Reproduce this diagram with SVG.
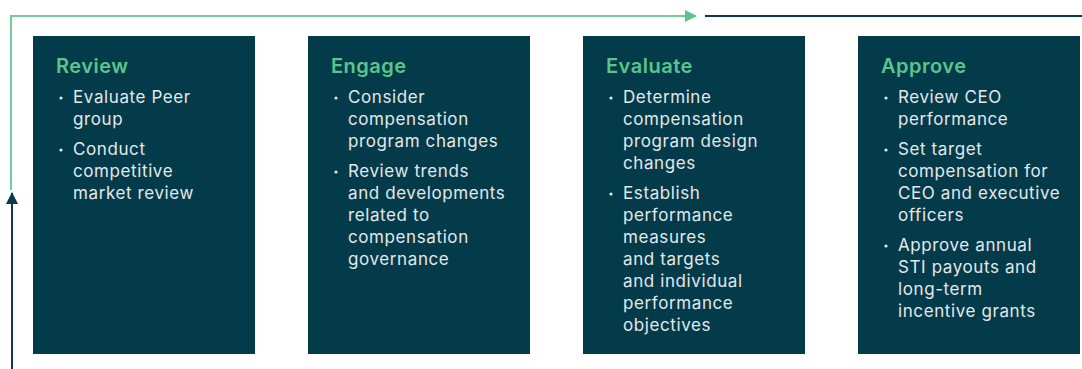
<svg xmlns="http://www.w3.org/2000/svg" width="1082" height="369" viewBox="0 0 1082 369">
<style>
.box{fill:#033b4b}
.t{font-family:Inter,"Liberation Sans",sans-serif;font-weight:600;font-size:20px;letter-spacing:0.5px;fill:#5cc48a}
.b{font-family:Inter,"Liberation Sans",sans-serif;font-size:17px;letter-spacing:0.6px;fill:#e4e8e9}
.dot{fill:#e4e8e9}
.g{stroke:#6ccf98;stroke-width:2;fill:none}
.d{stroke:#0b3a4c;stroke-width:2;fill:none}
</style>
<defs>
<marker id="ag" markerWidth="12" markerHeight="12" refX="11" refY="6" orient="auto" markerUnits="userSpaceOnUse"><path d="M0,0 L12,6 L0,12 Z" fill="#5cc48a"/></marker>
<marker id="ad" markerWidth="12" markerHeight="14" refX="11" refY="6" orient="auto" markerUnits="userSpaceOnUse"><path d="M0,0 L12,6 L0,12 Z" fill="#0b3a4c"/></marker>
</defs>
<g id="connectors">
<path class="g" d="M11,190 L11,16 L696,16" marker-end="url(#ag)"/>
<path class="d" d="M1082,16 L705,16"/>
<path class="d" d="M12,369 L12,193" marker-end="url(#ad)"/>
</g>
<g id="review">
<rect class="box" x="33" y="36" width="222" height="318"/>
<text class="t" x="56" y="73">Review</text>
<g class="dot"><circle cx="61" cy="98" r="1.6"/><circle cx="61" cy="150" r="1.6"/></g>
<g class="b">
<text x="73" y="103">Evaluate Peer</text>
<text x="73" y="125">group</text>
<text x="73" y="155">Conduct</text>
<text x="73" y="177">competitive</text>
<text x="73" y="199">market review</text>
</g>
</g>
<g id="engage">
<rect class="box" x="308" y="36" width="222" height="318"/>
<text class="t" x="331" y="73">Engage</text>
<g class="dot"><circle cx="336" cy="98" r="1.6"/><circle cx="336" cy="172" r="1.6"/></g>
<g class="b">
<text x="348" y="103">Consider</text>
<text x="348" y="125">compensation</text>
<text x="348" y="147">program changes</text>
<text x="348" y="177">Review trends</text>
<text x="348" y="199">and developments</text>
<text x="348" y="221">related to</text>
<text x="348" y="243">compensation</text>
<text x="348" y="265">governance</text>
</g>
</g>
<g id="evaluate">
<rect class="box" x="583" y="36" width="222" height="318"/>
<text class="t" x="606" y="73">Evaluate</text>
<g class="dot"><circle cx="611" cy="98" r="1.6"/><circle cx="611" cy="194" r="1.6"/></g>
<g class="b">
<text x="623" y="103">Determine</text>
<text x="623" y="125">compensation</text>
<text x="623" y="147">program design</text>
<text x="623" y="169">changes</text>
<text x="623" y="199">Establish</text>
<text x="623" y="221">performance</text>
<text x="623" y="243">measures</text>
<text x="623" y="265">and targets</text>
<text x="623" y="287">and individual</text>
<text x="623" y="309">performance</text>
<text x="623" y="331">objectives</text>
</g>
</g>
<g id="approve">
<rect class="box" x="858" y="36" width="222" height="318"/>
<text class="t" x="881" y="73">Approve</text>
<g class="dot"><circle cx="886" cy="98" r="1.6"/><circle cx="886" cy="150" r="1.6"/><circle cx="886" cy="246" r="1.6"/></g>
<g class="b">
<text x="898" y="103">Review CEO</text>
<text x="898" y="125">performance</text>
<text x="898" y="155">Set target</text>
<text x="898" y="177">compensation for</text>
<text x="898" y="199">CEO and executive</text>
<text x="898" y="221">officers</text>
<text x="898" y="251">Approve annual</text>
<text x="898" y="273">STI payouts and</text>
<text x="898" y="295">long-term</text>
<text x="898" y="317">incentive grants</text>
</g>
</g>
</svg>
